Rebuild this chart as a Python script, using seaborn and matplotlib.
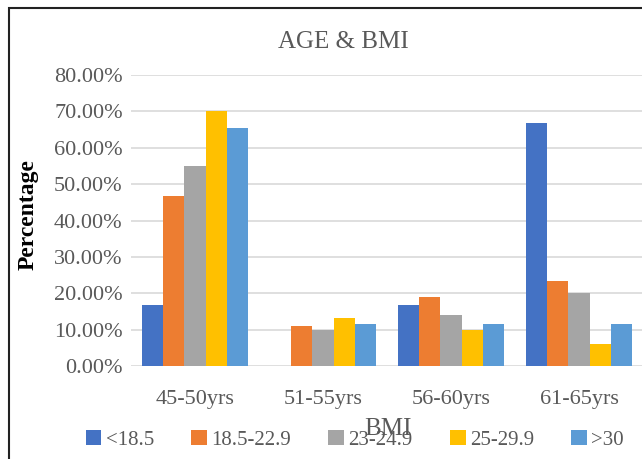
import matplotlib
matplotlib.use("Agg")
import matplotlib.pyplot as plt
import seaborn as sns
import pandas as pd
from matplotlib.patches import Rectangle
from matplotlib.ticker import PercentFormatter

# data
age_groups = ["45-50yrs", "51-55yrs", "56-60yrs", "61-65yrs"]
bmi_groups = ["<18.5", "18.5-22.9", "23-24.9", "25-29.9", ">30"]
under_18 = [16.67, 0.0, 16.67, 66.67]
b18_22 = [46.67, 11.11, 18.89, 23.33]
b23_24 = [55.0, 10.0, 14.0, 20.0]
b25_29 = [70.0, 13.33, 10.0, 6.0]
over_30 = [65.38, 11.54, 11.54, 11.54]
colors = ["#4472C4", "#ED7D31", "#A5A5A5", "#FFC000", "#5B9BD5"]

series = [under_18, b18_22, b23_24, b25_29, over_30]
rows = []
for bmi, vals in zip(bmi_groups, series):
    for age, v in zip(age_groups, vals):
        rows.append({"Age": age, "BMI": bmi, "Percentage": v})
df = pd.DataFrame(rows)

sns.set_theme(style="white")
plt.rcParams["font.family"] = ["Liberation Serif", "DejaVu Serif"]

fig = plt.figure(figsize=(6.42, 4.59), dpi=100)
ax = fig.add_axes([131 / 642, 1 - 366 / 459, 512 / 642, 291 / 459])

sns.barplot(data=df, x="Age", y="Percentage", hue="BMI", order=age_groups,
            hue_order=bmi_groups, palette=colors, width=0.83, gap=0,
            saturation=1, ax=ax, errorbar=None, linewidth=0)

ax.set_ylim(0, 80)
ax.set_yticks(range(0, 81, 10))
ax.yaxis.set_major_formatter(PercentFormatter(decimals=2))
ax.grid(axis="y", color="#D9D9D9", linewidth=1.2)
ax.set_axisbelow(True)
for s in ax.spines.values():
    s.set_visible(False)
ax.tick_params(axis="y", length=0, pad=6, labelsize=16, labelcolor="#595959")
ax.tick_params(axis="x", length=0, pad=17, labelsize=16, labelcolor="#595959")

fig.text(343 / 642, 1 - 42 / 459, "AGE & BMI", fontsize=18, color="#595959",
         ha="center", va="center")
ax.set_ylabel("Percentage", fontsize=17, fontweight="bold", color="black",
              va="center")
ax.yaxis.set_label_coords(-0.2, 0.52)
ax.set_xlabel("BMI", fontsize=18, color="#595959", va="center")
ax.xaxis.set_label_coords(0.502, -0.216)

ax.legend(loc="center", bbox_to_anchor=(0.437, -0.254), ncol=5, frameon=False,
          handlelength=0.75, handleheight=0.75, handletextpad=0.2,
          columnspacing=1.8, fontsize=15, labelcolor="#595959",
          borderaxespad=0, borderpad=0)

fig.patches.append(Rectangle((9 / 642, -0.1), 1.2, 1.1 - 8 / 459,
                             transform=fig.transFigure, fill=False,
                             edgecolor="#222222", linewidth=1.5))

fig.savefig("out.png", dpi=100)
